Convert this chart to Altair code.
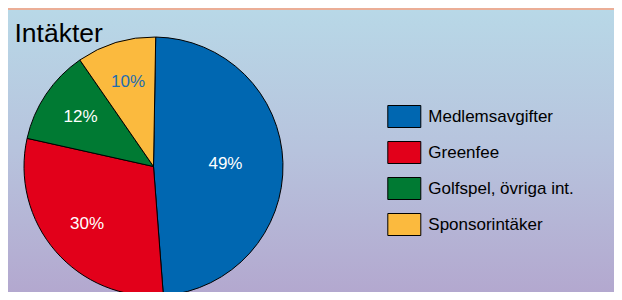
import math
import altair as alt
import pandas as pd

# ---- data ----
categories = ["Medlemsavgifter", "Greenfee", "Golfspel, övriga int.", "Sponsorintäker"]
shares = [49, 30, 12, 10]
colors = ["#0067B1", "#E2001A", "#007A33", "#FBBA3E"]
chart_title = "Intäkter"

df = pd.DataFrame({
    "cat": categories,
    "share": shares,
    "idx": list(range(len(categories))),
})
df["label"] = df["share"].astype(str) + "%"
one = pd.DataFrame({"a": [0]})

W, H = 606, 284
CX, CY = 145.5, 158.5
FONT = "Liberation Sans"

start = 0.017
theta_scale = alt.Scale(range=[start, start + 2 * math.pi])

bg = alt.Chart(one).mark_rect(
    color=alt.LinearGradient(
        gradient="linear", x1=0, y1=0, x2=0, y2=1,
        stops=[
            alt.GradientStop(color="#B8D8E7", offset=0),
            alt.GradientStop(color="#B7C3DD", offset=0.5),
            alt.GradientStop(color="#B3A8CF", offset=1),
        ],
    )
).encode(x=alt.value(0), x2=alt.value(W), y=alt.value(2), y2=alt.value(H))

pie = alt.Chart(df).mark_arc(outerRadius=129.5, stroke="black", strokeWidth=1).encode(
    theta=alt.Theta("share:Q", stack=True, scale=theta_scale),
    color=alt.Color(
        "cat:N",
        sort=categories,
        scale=alt.Scale(domain=categories, range=colors),
        legend=alt.Legend(
            title=None,
            orient="none",
            legendX=384.8,
            legendY=97,
            padding=0,
            symbolType="M-1.5,-1H1.5V1H-1.5Z",
            symbolSize=484,
            symbolStrokeColor="black",
            symbolStrokeWidth=1,
            symbolOpacity=1,
            labelFont=FONT,
            labelFontSize=17,
            labelColor="black",
            labelOffset=12.5,
            rowPadding=9,
            labelLimit=300,
        ),
    ),
    order=alt.Order("idx:Q"),
    x=alt.value(CX),
    y=alt.value(CY),
)


def label_layer(radius, test):
    return alt.Chart(df).transform_filter(test).mark_text(
        radius=radius, font=FONT, fontSize=17
    ).encode(
        theta=alt.Theta("share:Q", stack=True, scale=theta_scale),
        order=alt.Order("idx:Q"),
        text="label:N",
        color=alt.condition("datum.cat === 'Sponsorintäker'", alt.value("#1F6DB0"), alt.value("white")),
        x=alt.value(CX),
        y=alt.value(CY),
    )


# stacking must see all rows, so compute the stack before filtering
def label_layer_stacked(radius, test):
    return alt.Chart(df).transform_stack(
        stack="share", groupby=[], as_=["s0", "s1"], sort=[alt.SortField("idx")]
    ).transform_calculate(
        mid="(datum.s0 + datum.s1) / 2"
    ).transform_filter(test).mark_text(
        radius=radius, font=FONT, fontSize=17
    ).encode(
        theta=alt.Theta("mid:Q", stack=None, scale=alt.Scale(domain=[0, sum(shares)], range=[start, start + 2 * math.pi])),
        text="label:N",
        color=alt.condition("datum.cat === 'Sponsorintäker'", alt.value("#1F6DB0"), alt.value("white")),
        x=alt.value(CX),
        y=alt.value(CY),
    )


labels_main = label_layer_stacked(72, "datum.cat === 'Medlemsavgifter'")
labels_rest = label_layer_stacked(88, "datum.cat !== 'Medlemsavgifter'")

title = alt.Chart(one).mark_text(
    text=chart_title, align="left", baseline="alphabetic", font=FONT, fontSize=26.5, color="black"
).encode(x=alt.value(6.5), y=alt.value(33.7))

chart = alt.layer(bg, pie, labels_main, labels_rest, title).resolve_scale(theta="independent").properties(
    width=W,
    height=H,
    background="#EBAE97",
    padding=0,
    autosize=alt.AutoSizeParams(type="none"),
).configure_view(stroke="transparent")

chart.save("out.html", embed_options={"renderer": "svg", "actions": False})
